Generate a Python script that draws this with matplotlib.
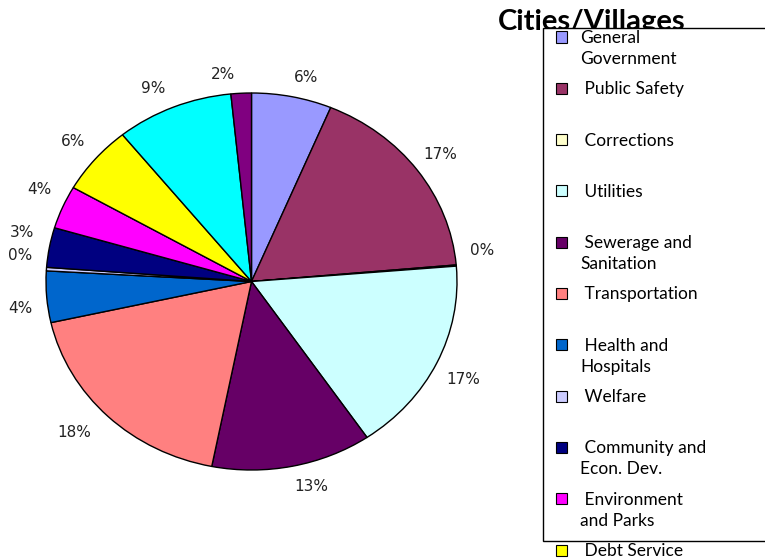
import matplotlib
matplotlib.use("Agg")
import numpy as np
import matplotlib.pyplot as plt
from matplotlib.patches import Rectangle
from matplotlib.transforms import offset_copy

# slice shares (percent), clockwise from 12 o'clock
categories = ["General\nGovernment", " Public Safety", " Corrections", " Utilities",
              " Sewerage and\nSanitation", " Transportation", " Health and\nHospitals",
              " Welfare", " Community and\nEcon. Dev.", " Environment\nand Parks",
              " Debt Service", " Other", " Intergovernmental"]
shares = [6.3, 17.3, 0.1, 16.8, 12.6, 18.4, 4.4, 0.3, 3.4, 3.7, 5.9, 9.2, 1.6]
colors = ["#9999FF", "#993366", "#FFFFCC", "#CCFFFF", "#660066", "#FF8080", "#0066CC",
          "#CCCCFF", "#000080", "#FF00FF", "#FFFF00", "#00FFFF", "#800080"]
# Excel shuffles crowded labels a bit (pixels, right / down)
nudge_x = [0, -2, 4, 0, 0, -10, -4, -4, -5, -2, -2, -4, -18]
nudge_y = [-2, -3, -14, 5, 4, 2, 11, -13, -13, -6, -4, -2, -2]

W, H = 765, 560
fig = plt.figure(figsize=(W / 100, H / 100), dpi=100)

# pie axes (Excel pie is slightly stretched horizontally)
ax = fig.add_axes([46 / W, 1 - 470 / H, 411 / W, 377 / H])
wedges, _ = ax.pie(shares, colors=colors, startangle=90, counterclock=False,
                   wedgeprops=dict(edgecolor="black", linewidth=1.0))
ax.set_aspect("auto")
ax.set_xlim(-1, 1)
ax.set_ylim(-1, 1)
ax.axis("off")

total = sum(shares)
for w, s, dx, dy in zip(wedges, shares, nudge_x, nudge_y):
    ang = np.deg2rad((w.theta1 + w.theta2) / 2)
    x, y = 1.05 * np.cos(ang), 1.05 * np.sin(ang)
    ha = "left" if x > 0.15 else ("right" if x < -0.15 else "center")
    va = "bottom" if y > 0.3 else ("top" if y < -0.3 else "center")
    tr = offset_copy(ax.transData, fig=fig, x=dx, y=-dy, units="dots")
    ax.text(x, y, "%.0f%%" % (100 * s / total), ha=ha, va=va, transform=tr,
            fontsize=11, family="DejaVu Sans", color="#222222")

# title, partly hidden behind the legend box
fig.text(592 / W, 1 - 22 / H, "Cities/Villages", ha="center", va="center",
         fontsize=21, fontweight="bold", family="Lato", zorder=1)

# legend box, drawn by hand (it overflows like the original)
fig.patches.append(Rectangle((543 / W, 1 - 541 / H), (W + 5 - 543) / W, (541 - 28) / H,
                             transform=fig.transFigure, facecolor="white",
                             edgecolor="black", linewidth=1.0, zorder=2))
step = 51.3
for i, (lab, c) in enumerate(zip(categories, colors)):
    y = 37 + i * step
    if y > H:
        break
    fig.patches.append(Rectangle((556 / W, 1 - (y + 5.5) / H), 11 / W, 11 / H,
                                 transform=fig.transFigure, facecolor=c,
                                 edgecolor="black", linewidth=0.8, zorder=3))
    for k, line in enumerate(lab.split("\n")):
        fig.text(580 / W, 1 - (y + 6 + 21 * k) / H, line, ha="left", va="baseline",
                 fontsize=12.5, family="Lato", zorder=3)

fig.savefig("out.png", dpi=100)
